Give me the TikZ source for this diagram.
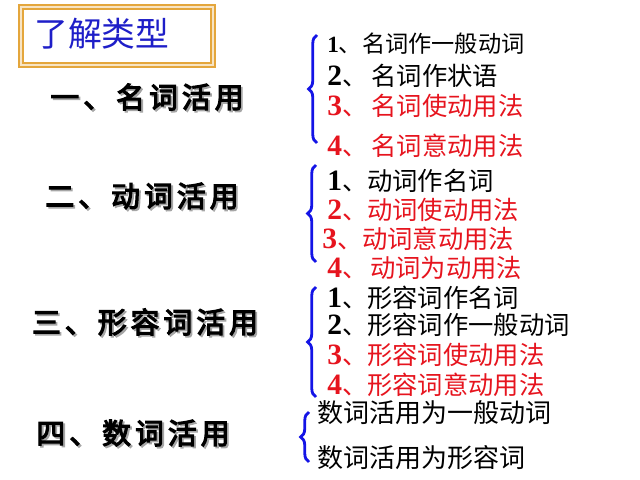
\documentclass[tikz,border=0pt]{standalone}
\usepackage{fontspec}
\usepackage{tikz}
\usetikzlibrary{decorations.pathreplacing,positioning}
\setmainfont{Liberation Serif}
\newfontfamily\cjk{Noto Sans CJK SC}
\newfontfamily\headfont[LetterSpace=14,FakeBold=4]{Noto Sans CJK SC}
\definecolor{braceblue}{HTML}{1414E6}
\definecolor{itemred}{HTML}{E6141E}
\definecolor{titleblue}{HTML}{1E1EC8}
\definecolor{titlegold}{HTML}{E4A63C}
\newcommand\nm[1]{{\bfseries\fontsize{21}{21}\selectfont #1}}

\begin{document}
\begin{tikzpicture}[x=0.025cm, y=-0.025cm,
  % left column headings, heavy with a soft grey shadow
  head/.style={font=\headfont\fontsize{20.5}{24}\selectfont, text=black, inner sep=0pt},
  headshadow/.style={head, text=black!35},
  % right column items
  item/.style={anchor=west, inner sep=0pt, font=\fontsize{18}{21}\selectfont},
  bigitem/.style={item, font=\fontsize{18.5}{22}\selectfont},
  brace/.style={draw=braceblue, line width=2pt, decorate, decoration={brace, amplitude=6pt}},
  titlebox/.style={draw=titlegold, line width=1.3pt, double=titlegold!30, double distance=1.2pt, fill=white},
]
\useasboundingbox (0,0) rectangle (640,480);

% title
\draw[titlebox] (21,7) rectangle (213,65);
\node[anchor=west, inner sep=0pt, text=titleblue, font=\cjk\fontsize{24}{28}\selectfont] (title) at (34,34) {了解类型};

% headings
\foreach \xx/\yy/\txt [count=\i] in {147/97/一、名词活用, 142/196/二、动词活用, 145/322/三、形容词活用, 133/433/四、数词活用} {
  \node[headshadow] (headsh\i) at (\xx+1.8,\yy+1.8) {\txt};
  \node[head] (head\i) at (\xx,\yy) {\txt};
}

% braces
\coordinate (b1top) at (317,35);  \coordinate (b1bot) at (317,143);
\coordinate (b2top) at (316,165); \coordinate (b2bot) at (316,262);
\coordinate (b3top) at (316,287); \coordinate (b3bot) at (316,397);
\coordinate (b4top) at (309,412); \coordinate (b4bot) at (309,462);
\draw[brace] (b1bot) -- (b1top);
\draw[brace] (b2bot) -- (b2top);
\draw[brace] (b3bot) -- (b3top);
\draw[brace] (b4bot) -- (b4top);

% group 1
\node[item, font=\fontsize{16.5}{19}\selectfont] (n1-1) at (327,44) {{\bfseries 1}\cjk 、名词作一般动词};
\node[item] (n1-2) at (327,76) {\nm{2}\cjk 、\hspace{3pt}名词作状语};
\foreach \yy/\txt [count=\i from 3] in {106/\nm{3}\cjk 、\hspace{3pt}名词使动用法, 146/\nm{4}\cjk 、\hspace{3pt}名词意动用法} {
  \node[item, text=itemred] (n1-\i) at (327,\yy) {\txt};
}

% group 2
\node[item] (n2-1) at (327,181) {\nm{1}\cjk 、动词作名词};
\node[item, text=itemred] (n2-2) at (327,210) {\nm{2}\cjk 、动词使动用法};
\node[item, text=itemred] (n2-3) at (322,239) {\nm{3}\cjk 、动词意动用法};
\node[item, text=itemred] (n2-4) at (327,268) {\nm{4}\cjk 、\hspace{2pt}动词为动用法};

% group 3
\node[item] (n3-1) at (327,298) {\nm{1}\cjk 、形容词作名词};
\node[item] (n3-2) at (327,325) {\nm{2}\cjk 、形容词作一般动词};
\node[item, text=itemred] (n3-3) at (327,355) {\nm{3}\cjk 、形容词使动用法};
\node[item, text=itemred] (n3-4) at (327,385) {\nm{4}\cjk 、形容词意动用法};

% group 4
\node[bigitem] (n4-1) at (317,413) {\cjk 数词活用为一般动词};
\node[bigitem] (n4-2) at (317,458) {\cjk 数词活用为形容词};
\end{tikzpicture}
\end{document}
